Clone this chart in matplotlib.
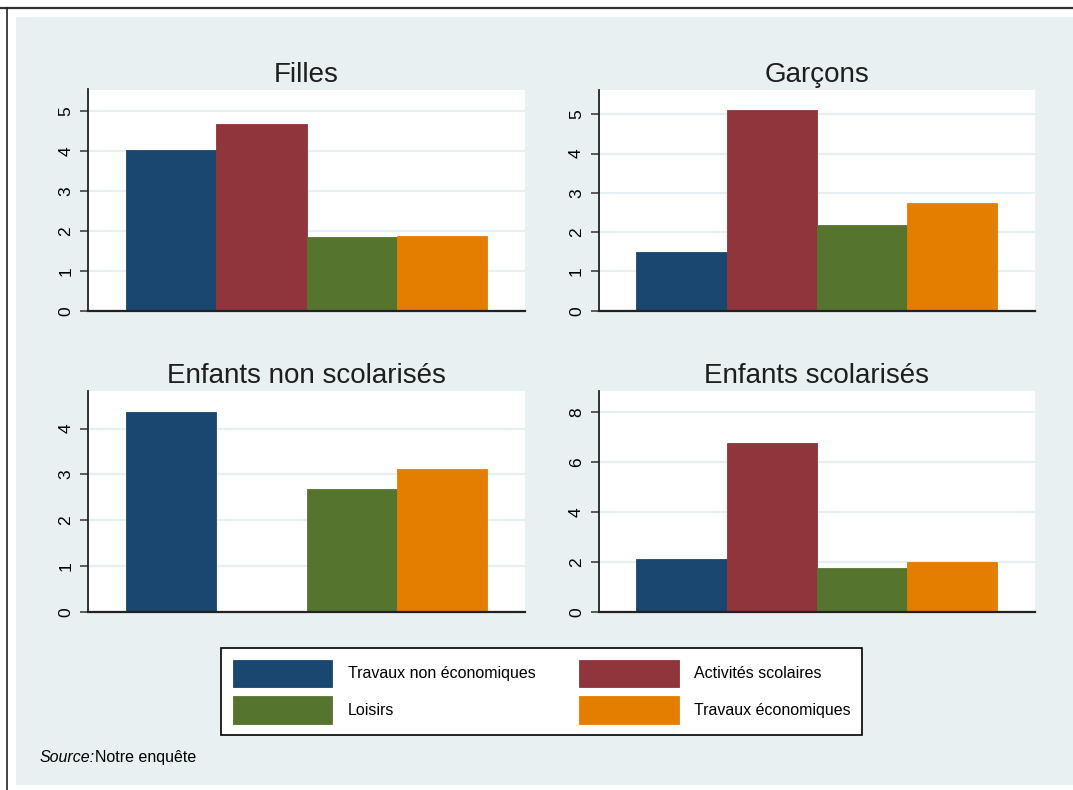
import matplotlib
matplotlib.use('Agg')
import matplotlib.pyplot as plt
from matplotlib.patches import Rectangle
from matplotlib.lines import Line2D

plt.rcParams['font.family'] = ['Liberation Sans', 'DejaVu Sans']

# data
categories = ['Travaux non économiques', 'Activités scolaires', 'Loisirs', 'Travaux économiques']
colors = ['#1A476F', '#90353B', '#55752F', '#E37E00']
titles = ['Filles', 'Garçons', 'Enfants non scolarisés', 'Enfants scolarisés']
filles = [4.02, 4.68, 1.85, 1.87]
garcons = [1.50, 5.10, 2.19, 2.74]
non_scol = [4.37, 0.0, 2.69, 3.12]
scol = [2.12, 6.76, 1.76, 2.00]
yticks = [[0, 1, 2, 3, 4, 5], [0, 1, 2, 3, 4, 5], [0, 1, 2, 3, 4], [0, 2, 4, 6, 8]]
ymax = [5.53, 5.62, 4.82, 8.85]

W, H = 1073, 790
bg = '#E9F0F2'

def px(x0, y0, x1, y1):
    return [x0 / W, 1 - y1 / H, (x1 - x0) / W, (y1 - y0) / H]

fig = plt.figure(figsize=(W / 100, H / 100), dpi=100)
fig.patch.set_facecolor('white')
fig.patches.append(Rectangle((16 / W, 1 - 785 / H), (W - 16) / W, (785 - 17) / H,
                             transform=fig.transFigure, facecolor=bg, edgecolor='none', zorder=-5))
fig.add_artist(Line2D([0, 1], [1 - 7.5 / H] * 2, color='#333333', lw=1.6))
fig.add_artist(Line2D([7 / W] * 2, [0, 1 - 7.5 / H], color='#222222', lw=1.2))

rects = [px(88, 89.5, 525, 311), px(598.5, 90, 1035.3, 310.7),
         px(88, 391, 525, 612), px(598.5, 391, 1035.3, 612.3)]
title_y = [82, 82, 383, 383]
series = [filles, garcons, non_scol, scol]

handles = None
for i in range(4):
    ax = fig.add_axes(rects[i])
    ax.set_facecolor('white')
    bars = ax.bar(range(4), series[i], width=1, align='edge', color=colors,
                  edgecolor=colors, linewidth=0.6, zorder=2)
    if handles is None:
        handles = list(bars.patches)
    ax.set_xlim(-0.42, 4.42)
    ax.set_ylim(0, ymax[i])
    ax.set_xticks([])
    ax.set_yticks(yticks[i])
    ax.set_yticklabels([str(t) for t in yticks[i]], rotation=90, va='center')
    ax.tick_params(axis='y', length=6, width=1.1, pad=4.5, labelsize=12.5, color='#333333')
    ax.grid(axis='y', color='#E6EFF2', lw=1.6, zorder=0)
    ax.set_axisbelow(True)
    for s in ['top', 'right']:
        ax.spines[s].set_visible(False)
    ax.spines['left'].set_color('#222222')
    ax.spines['left'].set_linewidth(1.3)
    ax.spines['bottom'].set_color('#222222')
    ax.spines['bottom'].set_linewidth(1.6)
    r = rects[i]
    fig.text(r[0] + r[2] / 2, 1 - title_y[i] / H, titles[i], ha='center', va='baseline',
             fontsize=20, color='#1E1E1E')

order = [0, 2, 1, 3]
leg = fig.legend([handles[k] for k in order], [categories[k] for k in order], ncol=2,
                 loc='upper left', bbox_to_anchor=(221 / W, 1 - 648 / H),
                 fontsize=11.5, handlelength=6.25, handleheight=2.25, handletextpad=0.95,
                 columnspacing=2.75, labelspacing=0.6, borderpad=0.72, borderaxespad=0,
                 frameon=True, fancybox=False, framealpha=1, edgecolor='black')
leg.get_frame().set_linewidth(1.2)

t1 = fig.text(40 / W, 1 - 762 / H, 'Source:', fontsize=11.5, style='italic', va='baseline')
fig.canvas.draw()
bb = t1.get_window_extent()
fig.text(bb.x1 / W, 1 - 762 / H, 'Notre enquête', fontsize=11.5, va='baseline')

fig.savefig('out.png', dpi=100)
